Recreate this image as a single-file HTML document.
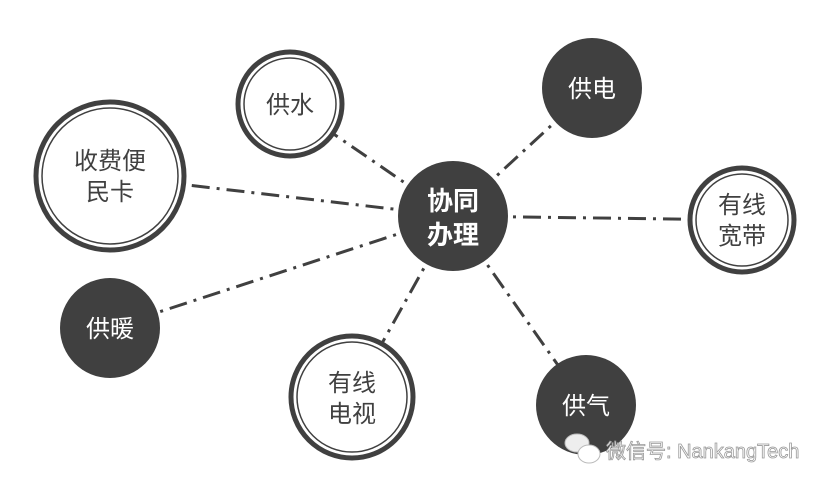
<!DOCTYPE html>
<html><head><meta charset="utf-8"><style>
html,body{margin:0;padding:0;background:#fff;}
text{font-family:"Liberation Sans","Noto Sans CJK SC",sans-serif;}
</style></head><body>
<svg width="828" height="488" viewBox="0 0 828 488" xmlns="http://www.w3.org/2000/svg">
<g stroke="#404040" stroke-width="3" stroke-dasharray="18 7 3 7" fill="none">
<line x1="453" y1="216" x2="290" y2="104"/>
<line x1="453" y1="216" x2="110" y2="176"/>
<line x1="453" y1="216" x2="110" y2="328"/>
<line x1="453" y1="216" x2="352" y2="397"/>
<line x1="453" y1="216" x2="586" y2="405"/>
<line x1="453" y1="216" x2="742" y2="220"/>
<line x1="453" y1="216" x2="592" y2="88"/>
</g>
<g fill="#fff" stroke="#404040">
<circle cx="290" cy="104" r="52" stroke-width="5"/><circle cx="290" cy="104" r="46" stroke-width="1.5"/>
<circle cx="110" cy="176" r="74" stroke-width="5"/><circle cx="110" cy="176" r="68" stroke-width="1.5"/>
<circle cx="742" cy="220" r="52" stroke-width="5"/><circle cx="742" cy="220" r="46" stroke-width="1.5"/>
<circle cx="352" cy="397" r="61" stroke-width="5"/><circle cx="352" cy="397" r="55" stroke-width="1.5"/>
</g>
<g fill="#404040">
<circle cx="453" cy="216" r="55"/>
<circle cx="592" cy="88" r="50"/>
<circle cx="110" cy="328" r="50"/>
<circle cx="586" cy="405" r="50"/>
</g>
<g font-size="24" text-anchor="middle" fill="#404040">
<text x="290" y="113">供水</text>
<text x="110" y="169">收费便</text><text x="110" y="200">民卡</text>
<text x="742" y="213">有线</text><text x="742" y="244">宽带</text>
<text x="352" y="391">有线</text><text x="352" y="422">电视</text>
</g>
<g font-size="24" text-anchor="middle" fill="#fff">
<text x="592" y="97">供电</text>
<text x="110" y="337">供暖</text>
<text x="586" y="414">供气</text>
<text x="453" y="210" font-size="26" font-weight="bold">协同</text>
<text x="453" y="244" font-size="26" font-weight="bold">办理</text>
</g>
<g fill="#fff" stroke="#bbb" stroke-width="1">
<ellipse cx="577" cy="443" rx="12" ry="9" fill="#eee"/>
<ellipse cx="589" cy="454" rx="11" ry="9"/>
</g>
<text x="606" y="458" font-size="20" fill="#fff" stroke="#999" stroke-width="0.8">微信号: NankangTech</text>
</svg>
</body></html>
